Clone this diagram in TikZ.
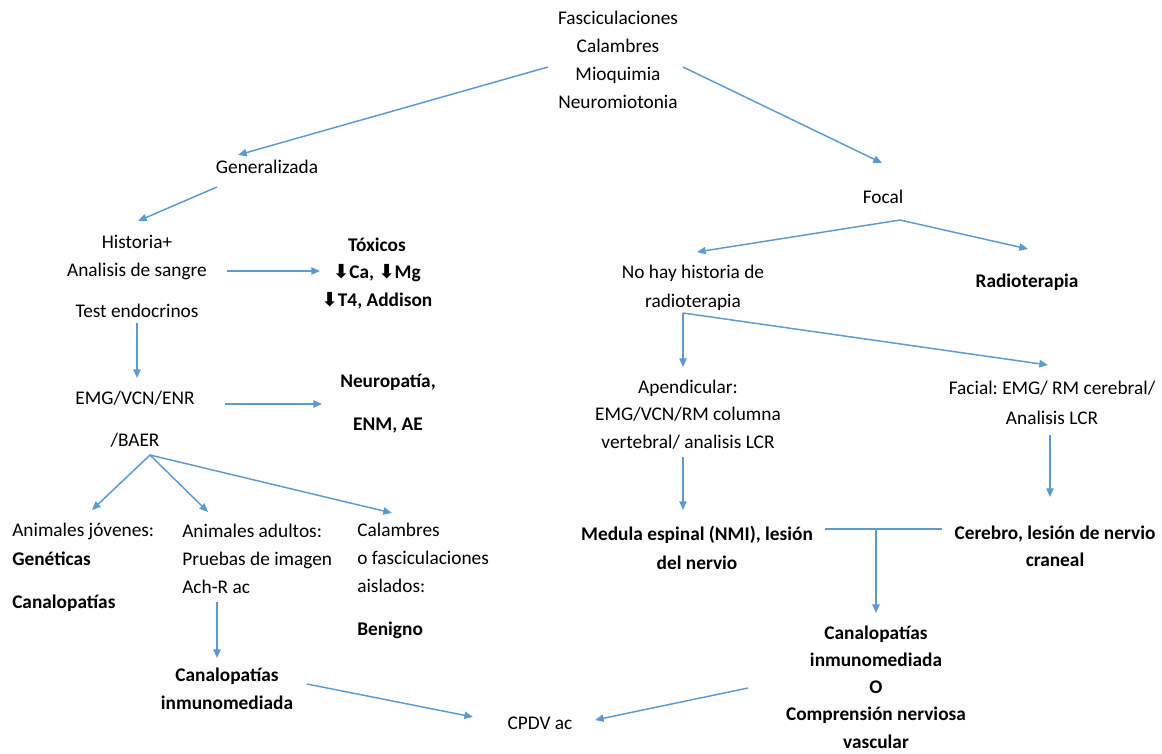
\documentclass[tikz,border=0pt]{standalone}
\usepackage{fontspec}
\setmainfont{Carlito}
\newfontfamily\arrowfont{DejaVu Sans}
\usepackage{tikz}
\usetikzlibrary{arrows.meta,positioning}
\definecolor{linkblue}{RGB}{91,155,213}
\newcommand{\downarr}{{\arrowfont\char"2B07}}
\frenchspacing
\tikzset{
  lbl/.style={inner sep=0pt, align=center, font=\fontsize{14.5}{#1}\selectfont},
  lbl/.default=21pt,
  lbll/.style={lbl=#1, align=left, anchor=west},
  lbll/.default=21pt,
  lnk/.style={draw=linkblue, line width=1.1pt},
  arr/.style={lnk, -{Triangle[length=6.5pt,width=5.5pt]}}
}

\begin{document}
\begin{tikzpicture}[x=0.75pt,y=-0.75pt]
            \useasboundingbox (0,0) rectangle (1162,753);
            \node[lbl=21pt] (top) at (618,60) {Fasciculaciones\\Calambres\\Mioquimia\\Neuromiotonia};
            \node[lbl] (gen) at (267,167) {Generalizada};
            \node[lbl] (focal) at (883,197) {Focal};
            \node[lbl=21pt] (hist) at (137,276.5) {Historia+\\Analisis de sangre\\[9.75pt]Test endocrinos};
            \node[lbl=20.6pt] (tox) at (377,273.5) {\textbf{Tóxicos}\\\textbf{\downarr Ca, \downarr Mg}\\\textbf{\downarr T4, Addison}};
            \node[lbl=21.75pt] (nohay) at (693,287.5) {No hay historia de\\radioterapia};
            \node[lbl] (radio) at (1027,282) {\textbf{Radioterapia}};
            \node[lbl=31.5pt] (emg) at (135,419) {EMG/VCN/ENR\\/BAER};
            \node[lbl=32.25pt] (neuro) at (388,403.5) {\textbf{Neuropatía,}\\\textbf{ENM, AE}};
            \node[lbl=20.6pt] (apend) at (688,414.5) {Apendicular:\\EMG/VCN/RM columna\\vertebral/ analisis LCR};
            \node[lbl=22.5pt] (facial) at (1052,403) {Facial: EMG/ RM cerebral/\\Analisis LCR};
            \node[lbll=21.75pt] (young) at (12,567) {Animales jóvenes:\\\textbf{Genéticas}\\[10.5pt]\textbf{Canalopatías}};
            \node[lbll=21pt] (adult) at (182,559) {Animales adultos:\\Pruebas de imagen\\Ach-R ac};
            \node[lbll=21pt] (cramp) at (357,580.5) {Calambres\\o fasciculaciones\\aislados:\\[11.25pt]\textbf{Benigno}};
            \node[lbl=21.75pt] (medula) at (697,547.5) {\textbf{Medula espinal (NMI), lesión}\\\textbf{del nervio}};
            \node[lbl=20.25pt] (cerebro) at (1055,546.5) {\textbf{Cerebro, lesión de nervio}\\\textbf{craneal}};
            \node[lbl=20.4pt] (canR) at (876,687) {\textbf{Canalopatías}\\\textbf{inmunomediada}\\\textbf{O}\\\textbf{Comprensión nerviosa}\\\textbf{vascular}};
            \node[lbl=21pt] (canL) at (227,689) {\textbf{Canalopatías}\\\textbf{inmunomediada}};
            \node[lbl] (cpdv) at (540,723) {CPDV ac};
            \coordinate (jn) at (876,529);

            \draw[arr] ([shift={(-70,7)}]top.center) -- ([shift={(-29,-12)}]gen.center);
            \draw[arr] ([shift={(65,7)}]top.center) -- ([shift={(-1,-34)}]focal.center);
            \draw[arr] ([shift={(-50,20)}]gen.center) -- ([shift={(1,-55.5)}]hist.center);
            \draw[arr] ([shift={(90,-5.5)}]hist.center) -- ([shift={(-57,-2.5)}]tox.center);
            \draw[arr] ([shift={(0,46.5)}]hist.center) -- ([shift={(2,-41)}]emg.center);
            \draw[arr] ([shift={(90,-15)}]emg.center) -- ([shift={(-66,0.5)}]neuro.center);
            \draw[arr] ([shift={(15,36)}]emg.center) -- ([shift={(80,-57)}]young.west);
            \draw[arr] ([shift={(15,36)}]emg.center) -- ([shift={(26,-47)}]adult.west);
            \draw[arr] ([shift={(15,36)}]emg.center) -- ([shift={(35,-67.5)}]cramp.west);
            \draw[arr] ([shift={(35,43)}]adult.west) -- ([shift={(-10,-31)}]canL.center);
            \draw[arr] ([shift={(80,-5)}]canL.center) -- ([shift={(-67,-6)}]cpdv.center);

            \draw[arr] ([shift={(17,23)}]focal.center) -- ([shift={(4,-35.5)}]nohay.center);
            \draw[arr] ([shift={(17,23)}]focal.center) -- ([shift={(1,-33)}]radio.center);
            \draw[arr] ([shift={(-10,25.5)}]nohay.center) -- ([shift={(-5,-47.5)}]apend.center);
            \draw[arr] ([shift={(-10,25.5)}]nohay.center) -- ([shift={(-4,-38)}]facial.center);
            \draw[arr] ([shift={(-5,42.5)}]apend.center) -- ([shift={(-14,-37.5)}]medula.center);
            \draw[arr] ([shift={(-2,32)}]facial.center) -- ([shift={(-5,-49.5)}]cerebro.center);
            \draw[lnk] ([shift={(128,-18.5)}]medula.center) -- ([shift={(-113,-17.5)}]cerebro.center);
            \draw[arr] (jn) -- ([shift={(0,-74)}]canR.center);
            \draw[arr] ([shift={(-128,1)}]canR.center) -- ([shift={(55,-3)}]cpdv.center);
        \end{tikzpicture}
\end{document}
